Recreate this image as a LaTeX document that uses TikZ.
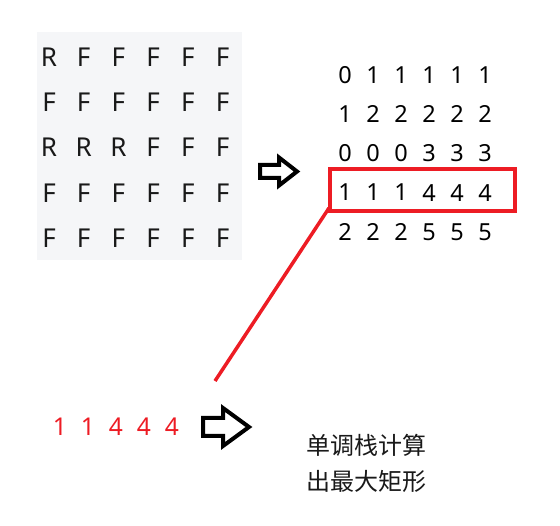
\documentclass[tikz,border=0pt]{standalone}
\usepackage{fontspec}
\setmainfont{Noto Sans}
\newfontfamily\cjk{Noto Sans CJK SC}
\usetikzlibrary{calc}
\definecolor{paintred}{RGB}{237,28,36}
\definecolor{gridbg}{RGB}{245,246,248}

\begin{document}
\begin{tikzpicture}[x=1pt, y=-1pt, every node/.style={inner sep=0pt},
		letter/.style={font=\fontsize{26}{26}\selectfont, text=black!90},
		height/.style={font=\fontsize{23.5}{23.5}\selectfont, text=black},
		rowval/.style={font=\fontsize{24.5}{24.5}\selectfont, text=paintred},
		note/.style={font=\cjk\fontsize{24}{24}\selectfont, text=black!90, anchor=west},
		hollow/.style={draw=black, line width=4pt, line join=miter}]
	\useasboundingbox (0,0) rectangle (560,526);
	
	% Draw the F/R grid on its grey sheet
	\fill[gridbg] (37,32) rectangle (242,260);
	\foreach \row [count=\r] in {{R,F,F,F,F,F},{F,F,F,F,F,F},{R,R,R,F,F,F},{F,F,F,F,F,F},{F,F,F,F,F,F}}
	{
		\foreach \ch [count=\c] in \row
			\node[letter] (g-\r-\c) at ({49+34.7*(\c-1)},{57+45.3*(\r-1)}) {\ch};
	}
	
	% Heights of each column
	\foreach \row [count=\r] in {{0,1,1,1,1,1},{1,2,2,2,2,2},{0,0,0,3,3,3},{1,1,1,4,4,4},{2,2,2,5,5,5}}
	{
		\foreach \v [count=\c] in \row
			\node[height] (h-\r-\c) at ({345+28*(\c-1)},{75+39.2*(\r-1)}) {\v};
	}
	
	% Red frame round the fourth row and the line down to it
	\node[draw=paintred, line width=4pt, minimum width=185pt, minimum height=42pt] (box) at (422.5,190) {};
	\coordinate (tail) at (215,381);
	\draw[paintred, line width=3.5pt] ($(box.south west)+(1,-5)$) -- (tail);
	
	% Row taken out
	\foreach \v [count=\i] in {1,1,4,4,4}
		\node[rowval] (s-\i) at ({60+28*(\i-1)},427) {\v};
	
	% Hollow arrows
	\draw[hollow] (260,165) -- (279,165) -- (279,157.5) -- (297,171.5) -- (279,185.5) -- (279,178) -- (260,178) -- cycle;
	\draw[hollow] (203,418) -- (223,418) -- (223,408) -- (249,427) -- (223,446) -- (223,436) -- (203,436) -- cycle;
	
	\node[note] (n1) at (306,445) {单调栈计算};
	\node[note] (n2) at (306,481) {出最大矩形};
\end{tikzpicture}
\end{document}
